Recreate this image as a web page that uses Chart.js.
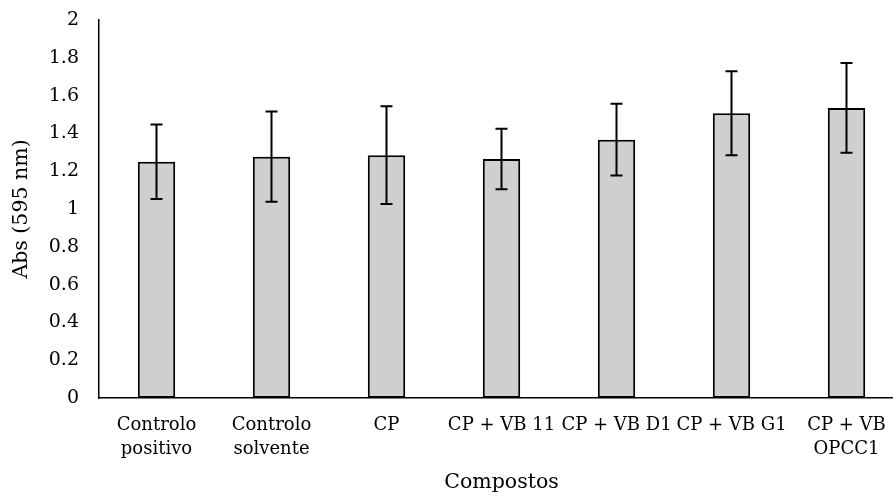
<!DOCTYPE html>
<html>
<head>
<meta charset="utf-8">
<script src="https://cdn.jsdelivr.net/npm/chart.js@4.4.1/dist/chart.umd.min.js"></script>
<style>
html,body{margin:0;padding:0;background:#fff;overflow:hidden;width:893px;height:496px;}
canvas{display:block;}
</style>
</head>
<body>
<canvas id="c" width="910" height="496"></canvas>
<script>
const categories = [["Controlo","positivo"],["Controlo","solvente"],"CP","CP + VB 11","CP + VB D1","CP + VB G1",["CP + VB","OPCC1"]];
const absValues = [1.25, 1.277, 1.285, 1.264, 1.367, 1.507, 1.535];
const absErrors = [0.197, 0.239, 0.258, 0.16, 0.19, 0.222, 0.237];
const yTicks = [0, 0.2, 0.4, 0.6, 0.8, 1, 1.2, 1.4, 1.6, 1.8, 2];

const FONT = "'DejaVu Serif', Georgia, serif";

const errorBars = {
  id: 'errorBars',
  afterDatasetsDraw(chart) {
    const ctx = chart.ctx;
    const meta = chart.getDatasetMeta(0);
    const ys = chart.scales.y;
    ctx.save();
    ctx.strokeStyle = '#000';
    ctx.lineWidth = 2;
    meta.data.forEach((bar, i) => {
      const x = bar.x;
      const top = ys.getPixelForValue(absValues[i] + absErrors[i]);
      const bot = ys.getPixelForValue(absValues[i] - absErrors[i]);
      ctx.beginPath();
      ctx.moveTo(x, top); ctx.lineTo(x, bot);
      ctx.moveTo(x - 6, top); ctx.lineTo(x + 6, top);
      ctx.moveTo(x - 6, bot); ctx.lineTo(x + 6, bot);
      ctx.stroke();
    });
    ctx.restore();
  }
};

new Chart(document.getElementById('c'), {
  type: 'bar',
  data: {
    labels: categories,
    datasets: [{
      data: absValues,
      backgroundColor: '#d0cece',
      borderColor: '#000',
      borderWidth: 2,
      borderSkipped: false,
      barPercentage: 0.325,
      categoryPercentage: 1
    }]
  },
  options: {
    responsive: false,
    animation: false,
    layout: { padding: { left: 0, right: 6, top: 20, bottom: 0 } },
    plugins: { legend: { display: false }, tooltip: { enabled: false } },
    scales: {
      x: {
        grid: { display: false, drawTicks: false },
        border: { color: '#000', width: 1.5 },
        ticks: { color: '#000', font: { family: FONT, size: 18, lineHeight: 1.33 }, padding: 15, maxRotation: 0, autoSkip: false },
        title: { display: true, text: 'Compostos', color: '#000', font: { family: FONT, size: 20.5, lineHeight: 1.33 }, padding: { top: 0, bottom: 0 } },
        afterFit(scale) { scale.height = 98; scale.paddingLeft = 0; scale.paddingRight = 0; }
      },
      y: {
        min: 0, max: 2,
        afterBuildTicks(scale) { scale.ticks = yTicks.map(v => ({ value: v })); },
        grid: { display: false, drawTicks: false },
        border: { color: '#000', width: 1.5 },
        ticks: { color: '#000', font: { family: FONT, size: 19 }, padding: 20, callback: v => String(v) },
        title: { display: true, text: 'Abs (595 nm)', color: '#000', font: { family: FONT, size: 20.5, lineHeight: 1.33 }, padding: { top: 8, bottom: 0 } },
        afterFit(scale) { scale.width = 99; scale.paddingTop = 0; scale.paddingBottom = 0; }
      }
    }
  },
  plugins: [errorBars]
});
</script>
</body>
</html>
